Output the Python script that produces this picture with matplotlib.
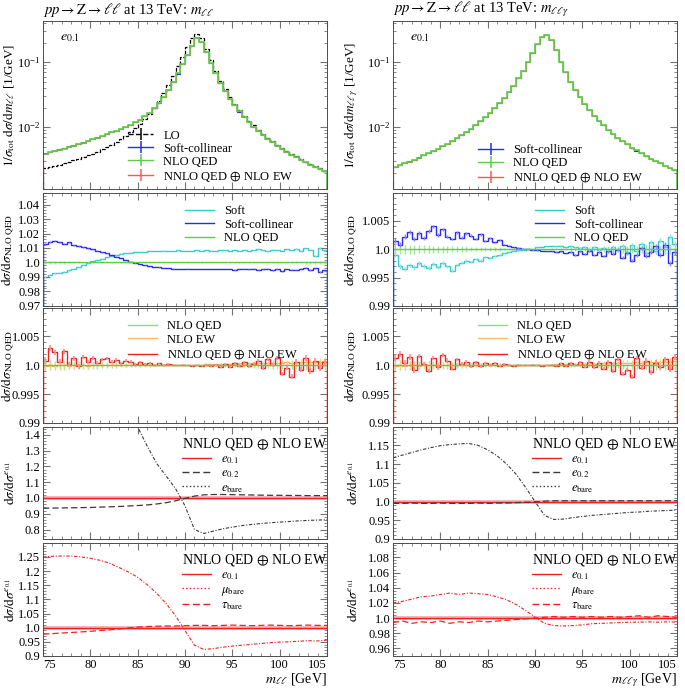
import matplotlib.pyplot as plt
import numpy as np
from matplotlib.lines import Line2D
from matplotlib.ticker import MultipleLocator, AutoMinorLocator, FuncFormatter

plt.rcParams['font.family'] = ['Liberation Serif', 'DejaVu Serif']
plt.rcParams['mathtext.fontset'] = 'stix'

# 0.5 GeV histogram bins between 75 and 105 GeV
bin_edges = np.arange(75.0, 105.01, 0.5)
bin_centers = 0.5 * (bin_edges[:-1] + bin_edges[1:])
# 1 GeV sampling used for the smooth scheme ratios
mass_points = np.arange(75, 106, 1)

# ---- top panels: normalised distributions ----
lo_mll = [
    0.00232, 0.00242, 0.00253, 0.00265, 0.00278, 0.00292, 0.00308, 0.00326, 0.00346, 0.00368,
    0.00393, 0.00422, 0.00455, 0.00494, 0.00540, 0.00595, 0.00660, 0.00740, 0.00840, 0.00965,
    0.0113, 0.0134, 0.0162, 0.0200, 0.0253, 0.0330, 0.0443, 0.0610, 0.0860, 0.122,
    0.172, 0.232, 0.268, 0.232, 0.162, 0.108, 0.0735, 0.0522, 0.0385, 0.0293,
    0.0230, 0.0185, 0.0151, 0.0126, 0.0107, 0.00915, 0.00793, 0.00693, 0.00610, 0.00541,
    0.00483, 0.00433, 0.00391, 0.00355, 0.00324, 0.00296, 0.00272, 0.00251, 0.00232, 0.00215,
]
nlo_mll = [
    0.0039, 0.0041, 0.0043, 0.0045, 0.0047, 0.0050, 0.0052, 0.0055, 0.0058, 0.0061,
    0.0065, 0.0069, 0.0073, 0.0078, 0.0083, 0.0088, 0.0094, 0.0101, 0.0109, 0.0119,
    0.0131, 0.0147, 0.0168, 0.0196, 0.0235, 0.0290, 0.0370, 0.0490, 0.0670, 0.0930,
    0.130, 0.180, 0.235, 0.205, 0.145, 0.098, 0.0675, 0.0483, 0.0358, 0.0275,
    0.0217, 0.0175, 0.0144, 0.0120, 0.0102, 0.00875, 0.00760, 0.00665, 0.00587, 0.00522,
    0.00467, 0.00420, 0.00380, 0.00345, 0.00316, 0.00289, 0.00266, 0.00245, 0.00227, 0.00210,
]
nlo_mllg = [
    0.00243, 0.00259, 0.00277, 0.00296, 0.00317, 0.00341, 0.00367, 0.00397, 0.00430, 0.00468,
    0.00511, 0.00559, 0.00616, 0.00681, 0.00758, 0.00847, 0.00952, 0.01079, 0.01232, 0.0142,
    0.0165, 0.0195, 0.0232, 0.0281, 0.0347, 0.0437, 0.0563, 0.0743, 0.1007, 0.139,
    0.189, 0.240, 0.260, 0.218, 0.152, 0.1024, 0.0705, 0.0504, 0.0374, 0.0287,
    0.0226, 0.01825, 0.01501, 0.01256, 0.01066, 0.00913, 0.00793, 0.00693, 0.00612, 0.00544,
    0.00487, 0.00438, 0.00396, 0.00360, 0.00329, 0.00301, 0.00277, 0.00255, 0.00236, 0.00219,
]

# ---- ratios to NLO QED ----
soft_mll = [
    0.9900, 0.9915, 0.9925, 0.9930, 0.9935, 0.9945, 0.9958, 0.9968, 0.9985, 0.9998,
    1.0010, 1.0018, 1.0025, 1.0038, 1.0045, 1.0050, 1.0060, 1.0063, 1.0068, 1.0072,
    1.0075, 1.0074, 1.0078, 1.0080, 1.0079, 1.0082, 1.0080, 1.0081, 1.0083, 1.0082,
    1.0081, 1.0082, 1.0083, 1.0081, 1.0084, 1.0082, 1.0080, 1.0085, 1.0083, 1.0079,
    1.0086, 1.0082, 1.0088, 1.0080, 1.0085, 1.0091, 1.0083, 1.0078, 1.0088, 1.0084,
    1.0079, 1.0090, 1.0085, 1.0093, 1.0082, 1.0098, 1.0088, 1.0045, 1.0100, 1.0085,
]
softcoll_mll = [
    1.0130, 1.0142, 1.0150, 1.0138, 1.0130, 1.0140, 1.0120, 1.0112, 1.0105, 1.0098,
    1.0090, 1.0082, 1.0070, 1.0062, 1.0052, 1.0040, 1.0030, 1.0018, 1.0005, 0.9995,
    0.9988, 0.9980, 0.9975, 0.9970, 0.9966, 0.9962, 0.9960, 0.9958, 0.9957, 0.9957,
    0.9958, 0.9957, 0.9956, 0.9955, 0.9956, 0.9955, 0.9954, 0.9955, 0.9953, 0.9955,
    0.9950, 0.9954, 0.9957, 0.9952, 0.9956, 0.9950, 0.9953, 0.9958, 0.9946, 0.9952,
    0.9940, 0.9955, 0.9950, 0.9948, 0.9958, 0.9965, 0.9948, 0.9960, 0.9935, 0.9945,
]
soft_mllg = [
    0.9990, 0.9970, 0.9965, 0.9972, 0.9968, 0.9975, 0.9970, 0.9966, 0.9974, 0.9968,
    0.9976, 0.9970, 0.9962, 0.9972, 0.9976, 0.9980, 0.9978, 0.9983, 0.9980, 0.9986,
    0.9984, 0.9988, 0.9990, 0.9993, 0.9995, 0.9997, 0.9998, 0.9999, 1.0000, 1.0000,
    1.0003, 1.0004, 1.0005, 1.0006, 1.0005, 1.0006, 1.0004, 1.0006, 1.0003, 1.0002,
    1.0004, 0.9999, 1.0003, 0.9998, 1.0002, 0.9996, 1.0004, 0.9998, 1.0006, 0.9995,
    1.0008, 0.9997, 1.0010, 0.9994, 1.0012, 0.9996, 1.0015, 1.0004, 1.0022, 1.0010,
]
softcoll_mllg = [
    1.0015, 1.0008, 1.0022, 1.0030, 1.0018, 1.0028, 1.0020, 1.0032, 1.0040, 1.0025,
    1.0035, 1.0022, 1.0018, 1.0030, 1.0020, 1.0028, 1.0024, 1.0018, 1.0026, 1.0015,
    1.0020, 1.0012, 1.0016, 1.0008, 1.0006, 1.0003, 1.0002, 1.0001, 1.0000, 0.9999,
    0.9998, 0.9997, 0.9996, 0.9996, 0.9995, 0.9996, 0.9993, 0.9995, 0.9990, 0.9996,
    0.9992, 0.9997, 0.9990, 0.9995, 0.9988, 0.9996, 0.9992, 0.9999, 0.9985, 0.9993,
    0.9980, 0.9990, 1.0002, 0.9988, 0.9995, 1.0005, 0.9990, 1.0008, 0.9975, 0.9995,
]
nnlo_mll = [
    1.0008, 1.0030, 1.0022, 1.0006, 1.0024, 1.0002, 1.0012, 0.9998, 1.0014, 1.0006,
    1.0013, 1.0004, 1.0010, 1.0012, 1.0006, 1.0009, 1.0003, 1.0008, 1.0006, 1.0002,
    1.0005, 1.0002, 1.0004, 1.0001, 1.0003, 1.0000, 1.0002, 1.0001, 1.0000, 1.0001,
    1.0000, 0.9999, 1.0000, 0.9999, 1.0000, 0.9998, 1.0000, 0.9997, 1.0002, 0.9997,
    1.0004, 0.9999, 1.0005, 0.9998, 1.0002, 1.0008, 0.9995, 1.0010, 1.0000, 1.0012,
    0.9985, 0.9995, 0.9980, 1.0006, 0.9992, 1.0012, 0.9990, 1.0008, 0.9995, 1.0006,
]
nnlo_mllg = [
    1.0012, 1.0020, 1.0004, 1.0014, 0.9992, 1.0016, 1.0002, 0.9990, 1.0012, 0.9996,
    1.0018, 1.0008, 0.9994, 1.0010, 1.0002, 1.0006, 0.9998, 1.0005, 0.9998, 1.0004,
    1.0000, 1.0003, 0.9999, 1.0002, 1.0000, 0.9999, 1.0001, 1.0000, 1.0000, 1.0001,
    1.0000, 0.9999, 1.0000, 1.0001, 0.9999, 1.0003, 0.9998, 1.0004, 1.0000, 1.0005,
    0.9997, 1.0006, 0.9996, 1.0004, 0.9994, 1.0006, 0.9990, 1.0010, 0.9985, 0.9992,
    0.9980, 1.0012, 0.9995, 1.0008, 0.9988, 1.0004, 0.9996, 1.0010, 0.9994, 1.0014,
]
nloew_ratio = [
    0.9998, 1.0001, 0.9999, 1.0000, 1.0001, 0.9999, 1.0000, 1.0001, 1.0000, 0.9999,
    1.0000, 1.0001, 1.0000, 1.0000, 1.0001, 1.0000, 1.0001, 1.0000, 1.0001, 1.0001,
    1.0001, 1.0001, 1.0001, 1.0001, 1.0001, 1.0001, 1.0001, 1.0001, 1.0001, 1.0001,
    1.0001, 1.0001, 1.0001, 1.0001, 1.0002, 1.0002, 1.0002, 1.0002, 1.0002, 1.0002,
    1.0002, 1.0003, 1.0002, 1.0003, 1.0003, 1.0003, 1.0004, 1.0003, 1.0004, 1.0004,
    1.0004, 1.0005, 1.0004, 1.0005, 1.0005, 1.0006, 1.0005, 1.0006, 1.0006, 1.0007,
]
# statistical errors of the NLO QED / NLO EW ratios
stat_err = [
    0.0009, 0.0009, 0.0008, 0.0008, 0.0008, 0.0007, 0.0007, 0.0007, 0.0006, 0.0006,
    0.0006, 0.0006, 0.0005, 0.0005, 0.0005, 0.0005, 0.0004, 0.0004, 0.0004, 0.0003,
    0.0003, 0.0003, 0.0003, 0.0002, 0.0002, 0.0002, 0.0002, 0.0001, 0.0001, 0.0001,
    0.0001, 0.0001, 0.0001, 0.0002, 0.0002, 0.0002, 0.0002, 0.0003, 0.0003, 0.0003,
    0.0003, 0.0004, 0.0004, 0.0004, 0.0005, 0.0005, 0.0005, 0.0005, 0.0006, 0.0006,
    0.0006, 0.0006, 0.0007, 0.0007, 0.0007, 0.0008, 0.0008, 0.0008, 0.0009, 0.0009,
]

# ---- ratios to e_0.1 (1 GeV points, 75..105) ----
e02_mll = [0.935, 0.936, 0.937, 0.938, 0.939, 0.940, 0.942, 0.944, 0.946, 0.949, 0.952,
           0.956, 0.962, 0.970, 0.982, 0.998, 1.012, 1.020, 1.022, 1.022, 1.021,
           1.020, 1.019, 1.018, 1.017, 1.017, 1.016, 1.016, 1.015, 1.015, 1.015]
ebare_mll = [2.60, 2.55, 2.50, 2.40, 2.30, 2.20, 2.05, 1.90, 1.75, 1.60, 1.45,
             1.33, 1.22, 1.14, 1.06, 0.95, 0.80, 0.775, 0.79, 0.805, 0.815,
             0.825, 0.832, 0.838, 0.843, 0.847, 0.851, 0.855, 0.858, 0.860, 0.862]
e02_mllg = [0.995, 0.995, 0.996, 0.995, 0.995, 0.996, 0.995, 0.995, 0.995, 0.996, 0.995,
            0.996, 0.996, 0.997, 0.998, 0.999, 1.001, 1.002, 1.002, 1.002, 1.002,
            1.002, 1.002, 1.002, 1.002, 1.002, 1.002, 1.002, 1.002, 1.002, 1.002]
ebare_mllg = [1.117, 1.124, 1.131, 1.138, 1.144, 1.149, 1.152, 1.154, 1.155, 1.150, 1.138,
              1.122, 1.100, 1.073, 1.038, 1.000, 0.963, 0.952, 0.953, 0.957, 0.960,
              0.963, 0.965, 0.967, 0.969, 0.971, 0.972, 0.974, 0.975, 0.976, 0.977]
mubare_mll = [1.250, 1.252, 1.253, 1.253, 1.250, 1.245, 1.238, 1.228, 1.213, 1.197, 1.178,
              1.152, 1.122, 1.085, 1.042, 0.990, 0.938, 0.923, 0.926, 0.931, 0.935,
              0.938, 0.941, 0.944, 0.947, 0.949, 0.950, 0.952, 0.954, 0.953, 0.956]
taubare_mll = [0.977, 0.979, 0.981, 0.983, 0.985, 0.987, 0.990, 0.992, 0.995, 0.999, 1.002,
               1.004, 1.005, 1.006, 1.006, 1.007, 1.008, 1.008, 1.007, 1.008, 1.009,
               1.008, 1.007, 1.008, 1.009, 1.008, 1.007, 1.008, 1.009, 1.008, 1.008]
mubare_mllg = [1.020, 1.022, 1.025, 1.028, 1.029, 1.031, 1.033, 1.031, 1.033, 1.032, 1.031,
               1.028, 1.024, 1.018, 1.010, 1.001, 0.993, 0.990, 0.9895, 0.990, 0.991,
               0.9925, 0.993, 0.9935, 0.994, 0.9945, 0.9945, 0.995, 0.9945, 0.995, 0.9945]
taubare_mllg = [0.994, 0.996, 0.993, 0.995, 0.994, 0.996, 0.993, 0.995, 0.994, 0.996, 0.995,
                0.996, 0.997, 0.998, 0.999, 1.000, 1.001, 1.002, 1.001, 1.002, 1.001,
                1.002, 1.001, 1.002, 1.001, 1.002, 1.003, 1.001, 1.003, 1.002, 1.001]

C_LO = 'black'
C_SC = '#2a2aee'
C_SOFT = '#33cccc'
C_NLO = '#5ccc4a'
C_NLO_ERR = '#a8e49c'
C_NNLO = '#ee2222'
C_EW = '#ffaa44'
C_GRAY = '#3a3a3a'

FS = 8.5
TICK_FS = 9
LABEL_FS = 9.5


def ratio_fmt(v, pos):
    s = f"{v:.4f}".rstrip('0')
    if s.endswith('.'):
        s += '0'
    return s


def style_axis(ax, label_x, bottom=False):
    ax.set_xlim(75, 105)
    ax.xaxis.set_major_locator(MultipleLocator(5))
    ax.xaxis.set_minor_locator(MultipleLocator(1))
    ax.tick_params(which='both', direction='in', top=True, right=True,
                   labelsize=TICK_FS, pad=2)
    ax.tick_params(which='major', length=5, width=0.8, color='0.45')
    ax.tick_params(which='minor', length=2.5, width=0.6, color='0.45')
    for sp in ax.spines.values():
        sp.set_linewidth(0.7)
        sp.set_color('0.3')
    if not bottom:
        ax.tick_params(labelbottom=False)
    ax.yaxis.set_label_coords(label_x, 0.5)


def style_ratio(ax, ylim, major):
    ax.set_ylim(*ylim)
    ax.yaxis.set_major_locator(MultipleLocator(major))
    ax.yaxis.set_minor_locator(AutoMinorLocator(5))
    ax.yaxis.set_major_formatter(FuncFormatter(ratio_fmt))


def tick_handle(color, ls='-'):
    return Line2D([], [], color=color, ls=ls, lw=1.0, marker='|', markersize=9, mew=1.1)


W, H = 685, 688
col_x = [43, 393]
col_w = 284
rows = [(21, 189), (193, 306), (308, 423), (427, 539), (543, 656)]

fig = plt.figure(figsize=(W / 100, H / 100), dpi=100)
axes = [[fig.add_axes([cx / W, 1 - b / H, col_w / W, (b - t) / H]) for (t, b) in rows]
        for cx in col_x]

cols = [
    dict(nlo=nlo_mll, lo=lo_mll, sc=softcoll_mll, soft=soft_mll, nnlo=nnlo_mll,
         e02=e02_mll, ebare=ebare_mll, mub=mubare_mll, taub=taubare_mll,
         var=r'$m_{\ell\ell}$', dvar=r'\mathrm{d}m_{\ell\ell}', lab_x=-0.092, leg_y=0.405,
         p2=((0.9699, 1.048), 0.01), p4=((0.74, 1.45), 0.1), p5=((0.8999, 1.299), 0.05)),
    dict(nlo=nlo_mllg, lo=None, sc=softcoll_mllg, soft=soft_mllg, nnlo=nnlo_mllg,
         e02=e02_mllg, ebare=ebare_mllg, mub=mubare_mllg, taub=taubare_mllg,
         var=r'$m_{\ell\ell\gamma}$', dvar=r'\mathrm{d}m_{\ell\ell\gamma}', lab_x=-0.115,
         leg_y=0.32,
         p2=((0.98999, 1.0099), 0.005), p4=((0.8999, 1.199), 0.05), p5=((0.9499, 1.099), 0.02)),
]

bottom_axes = []
for ci, (col, axs) in enumerate(zip(cols, axes)):
    nlo = np.array(col['nlo'])
    ones = np.ones_like(bin_centers)
    err = np.array(stat_err)
    lx = col['lab_x']

    # --- panel 1: distributions ---
    ax = axs[0]
    style_axis(ax, lx)
    ax.set_yscale('log')
    ax.set_ylim(0.00112, 0.43)
    handles = []
    if col['lo'] is not None:
        ax.stairs(col['lo'], bin_edges, color=C_LO, lw=0.9, ls=(0, (3, 1.2)))
        handles.append((tick_handle(C_LO, '--'), 'LO'))
    ax.stairs(nlo * np.array(col['sc']), bin_edges, color=C_SC, lw=0.8)
    ax.stairs(nlo * np.array(col['nnlo']), bin_edges, color='#ff5555', lw=0.8)
    ax.stairs(nlo, bin_edges, color=C_NLO, lw=1.2)
    handles += [(tick_handle(C_SC), 'Soft-collinear'),
                (tick_handle(C_NLO), 'NLO QED'),
                (tick_handle('#ff5555'), r'NNLO QED $\oplus$ NLO EW')]
    ax.legend([h for h, _ in handles], [l for _, l in handles], loc='upper left',
              bbox_to_anchor=(0.27, col['leg_y']), frameon=False,
              fontsize=FS + 0.5, handlelength=2.0, labelspacing=0.08, borderpad=0.2)
    ax.text(0.06, 0.9, r'$e_{0.1}$', transform=ax.transAxes, fontsize=FS + 1.5, va='center')
    ax.set_ylabel(r'$1/\sigma_{\rm tot}\ \mathrm{d}\sigma/' + col['dvar'] + r'$ [1/GeV]',
                  fontsize=LABEL_FS)
    fig.text(col_x[ci] / W, 1 - 10 / H,
             r'$pp \rightarrow \mathrm{Z} \rightarrow \ell\ell$ at 13 TeV: ' + col['var'],
             fontsize=10.5, va='center', ha='left')

    # --- panel 2: soft / soft-collinear vs NLO QED ---
    ax = axs[1]
    style_axis(ax, lx)
    style_ratio(ax, *col['p2'])
    ax.errorbar(bin_centers, ones, yerr=err, fmt='none', ecolor=C_NLO_ERR, elinewidth=1.0)
    ax.axhline(1.0, color=C_NLO, lw=1.0)
    ax.errorbar(bin_centers, col['soft'], yerr=err * 0.5, fmt='none', ecolor='#8fe0e0',
                elinewidth=1.0)
    ax.stairs(col['soft'], bin_edges, color=C_SOFT, lw=1.0)
    ax.errorbar(bin_centers, col['sc'], yerr=err * 0.5, fmt='none', ecolor='#8888f5',
                elinewidth=1.0)
    ax.stairs(col['sc'], bin_edges, color=C_SC, lw=1.0)
    ax.legend([Line2D([], [], color=c, lw=1.0) for c in (C_SOFT, C_SC, C_NLO)],
              ['Soft', 'Soft-collinear', 'NLO QED'], loc='upper left',
              bbox_to_anchor=(0.47, 0.97), frameon=False, fontsize=FS + 0.5,
              handlelength=2.3, labelspacing=0.12, borderpad=0.2)
    ax.set_ylabel(r'$\mathrm{d}\sigma/\mathrm{d}\sigma_{\rm NLO\ QED}$', fontsize=LABEL_FS)

    # --- panel 3: NLO EW / NNLO vs NLO QED ---
    ax = axs[2]
    style_axis(ax, lx)
    style_ratio(ax, (0.98999, 1.0099), 0.005)
    ax.errorbar(bin_centers, ones, yerr=err, fmt='none', ecolor=C_NLO_ERR, elinewidth=1.0)
    ax.errorbar(bin_centers, nloew_ratio, yerr=err * 0.8, fmt='none',
                ecolor='#ffcc88', elinewidth=0.9)
    ax.axhline(1.0, color=C_NLO, lw=1.0)
    ax.stairs(nloew_ratio, bin_edges, color=C_EW, lw=0.9)
    ax.errorbar(bin_centers, col['nnlo'], yerr=err * 0.6, fmt='none',
                ecolor='#f59090', elinewidth=1.2)
    ax.stairs(col['nnlo'], bin_edges, color=C_NNLO, lw=1.0)
    ax.legend([Line2D([], [], color=c, lw=1.0) for c in ('#8fd87f', '#ffbb66', C_NNLO)],
              ['NLO QED', 'NLO EW', r'NNLO QED$\,\oplus\,$NLO EW'], loc='upper left',
              bbox_to_anchor=(0.27, 0.97), frameon=False, fontsize=FS + 0.5,
              handlelength=2.3, labelspacing=0.12, borderpad=0.2)
    ax.set_ylabel(r'$\mathrm{d}\sigma/\mathrm{d}\sigma_{\rm NLO\ QED}$', fontsize=LABEL_FS)

    # --- panel 4: electron schemes ---
    ax = axs[3]
    style_axis(ax, lx)
    style_ratio(ax, *col['p4'])
    ax.axhline(1.0, color='#f5a5a5', lw=2.6)
    ax.axhline(1.0, color=C_NNLO, lw=0.9)
    ax.plot(mass_points, col['e02'], color=C_GRAY, lw=0.9, ls=(0, (5, 2.5)))
    ax.plot(mass_points, col['ebare'], color=C_GRAY, lw=0.8, ls=(0, (3, 1.5, 1, 1.5)))
    ax.legend([Line2D([], [], color=C_NNLO, lw=1.0),
               Line2D([], [], color=C_GRAY, lw=1.0, ls=(0, (5, 2.5))),
               Line2D([], [], color=C_GRAY, lw=1.0, ls=':')],
              [r'$e_{0.1}$', r'$e_{0.2}$', r'$e_{\rm bare}$'],
              title=r'NNLO QED$\,\oplus\,$NLO EW', title_fontsize=FS + 1.5,
              loc='upper left', bbox_to_anchor=(0.46, 1.0), frameon=False,
              fontsize=FS + 0.5, handlelength=2.3, labelspacing=0.12, borderpad=0.2,
              alignment='left')
    ax.set_ylabel(r'$\mathrm{d}\sigma/\mathrm{d}\sigma^{e_{0.1}}$', fontsize=LABEL_FS)

    # --- panel 5: lepton flavours ---
    ax = axs[4]
    style_axis(ax, lx, bottom=True)
    style_ratio(ax, *col['p5'])
    ax.axhline(1.0, color='#f5a5a5', lw=2.6)
    ax.axhline(1.0, color=C_NNLO, lw=0.9)
    ax.plot(mass_points, col['mub'], color=C_NNLO, lw=0.8, ls=(0, (3, 1.5, 1, 1.5)))
    ax.plot(mass_points, col['taub'], color=C_NNLO, lw=0.9, ls=(0, (5, 2.5)))
    ax.legend([Line2D([], [], color=C_NNLO, lw=1.0),
               Line2D([], [], color=C_NNLO, lw=1.0, ls=':'),
               Line2D([], [], color=C_NNLO, lw=1.0, ls=(0, (5, 2.5)))],
              [r'$e_{0.1}$', r'$\mu_{\rm bare}$', r'$\tau_{\rm bare}$'],
              title=r'NNLO QED$\,\oplus\,$NLO EW', title_fontsize=FS + 1.5,
              loc='upper left', bbox_to_anchor=(0.46, 1.0), frameon=False,
              fontsize=FS + 0.5, handlelength=2.3, labelspacing=0.12, borderpad=0.2,
              alignment='left')
    ax.set_ylabel(r'$\mathrm{d}\sigma/\mathrm{d}\sigma^{e_{0.1}}$', fontsize=LABEL_FS)
    ax.set_xlabel(col['var'] + ' [GeV]', fontsize=10)
    ax.xaxis.set_label_coords(1.0, -0.135)
    ax.xaxis.label.set_horizontalalignment('right')
    bottom_axes.append(ax)

# keep the outermost x tick labels inside the panel, as in the original
fig.canvas.draw()
for ax in bottom_axes:
    ticks = [t for t in ax.xaxis.get_major_ticks() if 75 <= t.get_loc() <= 105]
    ticks[0].label1.set_horizontalalignment('left')
    ticks[-1].label1.set_horizontalalignment('right')

fig.savefig('out.png', dpi=100)
